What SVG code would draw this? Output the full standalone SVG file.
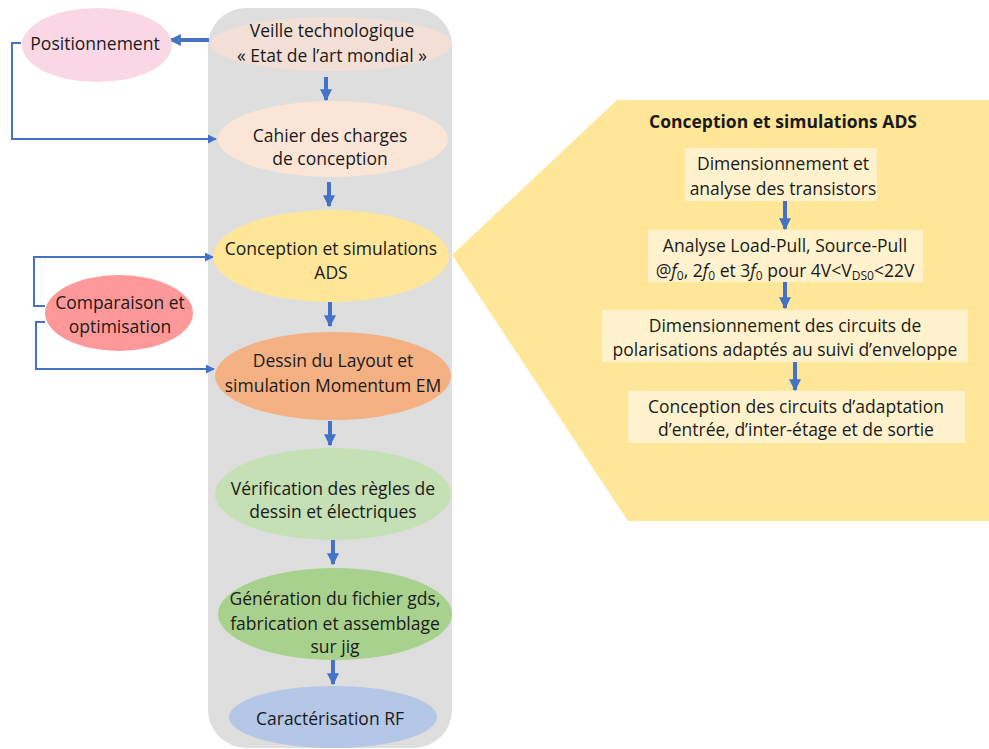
<svg xmlns="http://www.w3.org/2000/svg" width="989" height="749" viewBox="0 0 989 749">
<style>
text{font-family:"Open Sans","Liberation Sans",sans-serif;font-size:17.5px;fill:#1a1a1a;text-anchor:middle}
.b{font-weight:bold}
.thick{stroke:#4472C4;stroke-width:4;fill:none}
.thin{stroke:#4472C4;stroke-width:2;fill:none}
.box{fill:#FFF2CC}
</style>
<defs>
<marker id="ah" viewBox="0 0 10 10" refX="9" refY="5" markerWidth="3" markerHeight="3" orient="auto"><path d="M0,0L10,5L0,10z" fill="#4472C4"/></marker>
<marker id="ah2" viewBox="0 0 10 10" refX="9" refY="5" markerWidth="4.5" markerHeight="4.5" orient="auto"><path d="M0,0L10,5L0,10z" fill="#4472C4"/></marker>
</defs>
<rect x="208" y="8" width="244" height="740" rx="38" fill="#DEDEDE"/>
<polygon points="617,100 989,100 989,521 628,521 452,255" fill="#FFE699"/>
<g id="connectors">
<path class="thick" d="M209,40H170" marker-end="url(#ah)"/>
<path class="thick" d="M326,77V100" marker-end="url(#ah)"/>
<path class="thick" d="M329,182V206" marker-end="url(#ah)"/>
<path class="thick" d="M330,302V326" marker-end="url(#ah)"/>
<path class="thick" d="M330,421V445" marker-end="url(#ah)"/>
<path class="thick" d="M333,540V564" marker-end="url(#ah)"/>
<path class="thick" d="M333,660V684" marker-end="url(#ah)"/>
<path class="thin" d="M21,43H12V139H216" marker-end="url(#ah2)"/>
<path class="thin" d="M45,306H34V257H213" marker-end="url(#ah2)"/>
<path class="thin" d="M45,322H36V369H214" marker-end="url(#ah2)"/>
<path class="thick" d="M785,201V229" marker-end="url(#ah)"/>
<path class="thick" d="M785,282V308" marker-end="url(#ah)"/>
<path class="thick" d="M795,362V390" marker-end="url(#ah)"/>
</g>
<g id="veille"><ellipse cx="331" cy="44" rx="121" ry="27" fill="#F2E0D6"/><text x="332" y="37">Veille technologique</text><text x="332" y="62">« Etat de l’art mondial »</text></g>
<g id="positionnement"><ellipse cx="97" cy="45" rx="75" ry="37" fill="#F9D7E4"/><text x="95" y="50">Positionnement</text></g>
<g id="cahier"><ellipse cx="333" cy="139" rx="115" ry="38" fill="#FBE5D6"/><text x="330" y="142">Cahier des charges</text><text x="330" y="165">de conception</text></g>
<g id="conception"><ellipse cx="331" cy="256" rx="118" ry="46" fill="#FFE699"/><text x="331" y="255">Conception et simulations</text><text x="331" y="279">ADS</text></g>
<g id="comparaison"><ellipse cx="119" cy="313" rx="74" ry="38" fill="#FF9999"/><text x="120" y="309">Comparaison et</text><text x="120" y="333">optimisation</text></g>
<g id="dessin"><ellipse cx="333" cy="376" rx="118" ry="44" fill="#F4B183"/><text x="333" y="367">Dessin du Layout et</text><text x="333" y="392">simulation Momentum EM</text></g>
<g id="verification"><ellipse cx="333" cy="494" rx="118" ry="46" fill="#C5E0B4"/><text x="333" y="495">Vérification des règles de</text><text x="333" y="518">dessin et électriques</text></g>
<g id="generation"><ellipse cx="335" cy="614" rx="117" ry="46" fill="#A9D18E"/><text x="335" y="605">Génération du fichier gds,</text><text x="335" y="630">fabrication et assemblage</text><text x="335" y="653">sur jig</text></g>
<g id="caracterisation"><ellipse cx="333" cy="717" rx="104" ry="31" fill="#B4C7E7"/><text x="330" y="725">Caractérisation RF</text></g>
<g id="ads-detail">
<text class="b" x="783" y="128" font-size="15">Conception et simulations ADS</text>
<g id="dim"><rect class="box" x="685" y="148" width="192" height="53"/><text x="783" y="170">Dimensionnement et</text><text x="783" y="195">analyse des transistors</text></g>
<g id="loadpull"><rect class="box" x="648" y="230" width="275" height="52"/><text x="785" y="252">Analyse Load-Pull, Source-Pull</text><text x="785" y="277">@<tspan font-style="italic">f</tspan><tspan font-size="12" dy="3">0</tspan><tspan dy="-3">, 2</tspan><tspan font-style="italic">f</tspan><tspan font-size="12" dy="3">0</tspan><tspan dy="-3"> et 3</tspan><tspan font-style="italic">f</tspan><tspan font-size="12" dy="3">0</tspan><tspan dy="-3"> pour 4V&lt;V</tspan><tspan font-size="12" dy="3">DS0</tspan><tspan dy="-3">&lt;22V</tspan></text></g>
<g id="polar"><rect class="box" x="602" y="310" width="366" height="52"/><text x="785" y="332">Dimensionnement des circuits de</text><text x="785" y="356">polarisations adaptés au suivi d’enveloppe</text></g>
<g id="adapt"><rect class="box" x="628" y="391" width="337" height="52"/><text x="796" y="413">Conception des circuits d’adaptation</text><text x="796" y="436">d’entrée, d’inter-étage et de sortie</text></g>
</g>
</svg>
